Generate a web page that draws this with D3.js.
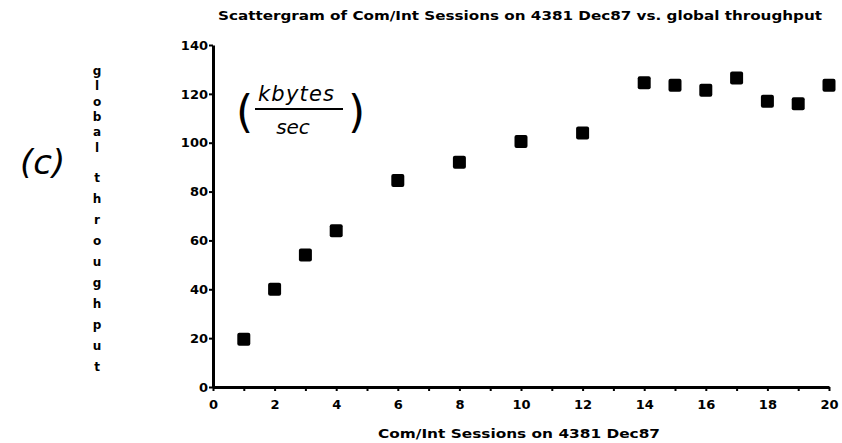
<!DOCTYPE html>
<html lang="en">
<head>
  <meta charset="UTF-8">
  <title>Scattergram</title>
  <style>
    body { margin: 0; background: #fff; }
    svg { display: block; }
    text { font-family: 'DejaVu Sans', sans-serif; font-weight: bold; fill: #000; }
    .axis path, .axis line { stroke: #000; }
    .hand { font-family: 'DejaVu Sans', sans-serif; font-weight: normal; }
  </style>
</head>
<body>
  <svg width="842" height="443"></svg>
  <script src="https://cdn.jsdelivr.net/npm/d3@7"></script>
  <script>
    // sessions vs throughput (kbytes/sec)
    var sessions = [1, 2, 3, 4, 6, 8, 10, 12, 14, 15, 16, 17, 18, 19, 20]
    var throughput = [19.5, 40, 54, 64, 84.5, 92, 100.5, 104, 124.5, 123.5, 121.5, 126.5, 117, 116, 123.5]
    var xTickLabels = [0, 2, 4, 6, 8, 10, 12, 14, 16, 18, 20]
    var yTickLabels = [0, 20, 40, 60, 80, 100, 120, 140]

    var data = sessions.map(function(s, i) {
      return { s: s, t: throughput[i] }
    })

    var svg = d3.select('svg')

    var x = d3.scaleLinear().domain([0, 20]).range([213, 829])
    var y = d3.scaleLinear().domain([0, 140]).range([387, 45])

    // title
    svg.append('text')
      .attr('x', 218)
      .attr('y', 20)
      .attr('font-size', '12px')
      .attr('textLength', 604)
      .attr('lengthAdjust', 'spacingAndGlyphs')
      .text('Scattergram of Com/Int Sessions on 4381  Dec87 vs. global throughput')

    // x axis: minor tick every session, label every 2
    var xAxis = svg.append('g')
      .attr('class', 'axis')
      .attr('transform', 'translate(0,' + y(0) + ')')
      .call(d3.axisBottom(x)
        .tickValues(d3.range(0, 21))
        .tickFormat(function(d) { return xTickLabels.indexOf(d) >= 0 ? d : '' })
        .tickSize(4)
        .tickSizeOuter(0)
        .tickPadding(9))
    xAxis.select('.domain').attr('stroke-width', 3)
    xAxis.selectAll('.tick line').attr('stroke-width', 2)

    var yAxis = svg.append('g')
      .attr('class', 'axis')
      .attr('transform', 'translate(' + x(0) + ',0)')
      .call(d3.axisLeft(y)
        .tickValues(yTickLabels)
        .tickSize(4)
        .tickSizeOuter(0)
        .tickPadding(1))
    yAxis.select('.domain').attr('stroke-width', 3)
    yAxis.selectAll('.tick line').attr('stroke-width', 2)
    svg.selectAll('.axis text')
      .attr('font-family', 'DejaVu Sans')
      .attr('font-weight', 'bold')
      .attr('font-size', '13px')

    // x axis title
    svg.append('text')
      .attr('x', 378)
      .attr('y', 438)
      .attr('font-size', '12px')
      .attr('textLength', 282)
      .attr('lengthAdjust', 'spacingAndGlyphs')
      .text('Com/Int Sessions on 4381  Dec87')

    // y axis title, stacked letters
    var yLabel = 'global throughput'.split('')
    svg.append('g').selectAll('text')
      .data(yLabel)
      .enter()
      .append('text')
      .attr('x', 97)
      .attr('y', function(d, i) { return i < 7 ? 75 + i * 15.3 : 182 + (i - 7) * 21 })
      .attr('text-anchor', 'middle')
      .attr('font-size', '12px')
      .text(function(d) { return d })

    // points
    svg.selectAll('.pt')
      .data(data)
      .enter()
      .append('rect')
      .attr('class', 'pt')
      .attr('x', function(d) { return x(d.s) - 6.5 })
      .attr('y', function(d) { return y(d.t) - 6.5 })
      .attr('width', 13)
      .attr('height', 13)
      .attr('rx', 2)
      .attr('fill', '#000')

    // handwritten notes
    svg.append('text')
      .attr('class', 'hand')
      .attr('x', 20)
      .attr('y', 174)
      .attr('font-size', '34px')
      .attr('font-style', 'italic')
      .text('(c)')

    var note = svg.append('g')
    note.append('text')
      .attr('class', 'hand')
      .attr('x', 236)
      .attr('y', 127)
      .attr('font-size', '44px')
      .attr('font-weight', 'normal')
      .text('(')
    note.append('text')
      .attr('class', 'hand')
      .attr('x', 348)
      .attr('y', 127)
      .attr('font-size', '44px')
      .text(')')
    note.append('text')
      .attr('class', 'hand')
      .attr('x', 296)
      .attr('y', 101)
      .attr('text-anchor', 'middle')
      .attr('font-size', '21px')
      .attr('font-style', 'italic')
      .attr('textLength', 76)
      .text('kbytes')
    note.append('line')
      .attr('x1', 255).attr('x2', 343)
      .attr('y1', 109).attr('y2', 109)
      .attr('stroke', '#000').attr('stroke-width', 2)
    note.append('text')
      .attr('class', 'hand')
      .attr('x', 293)
      .attr('y', 134)
      .attr('text-anchor', 'middle')
      .attr('font-size', '20px')
      .attr('font-style', 'italic')
      .text('sec')
  </script>
</body>
</html>
